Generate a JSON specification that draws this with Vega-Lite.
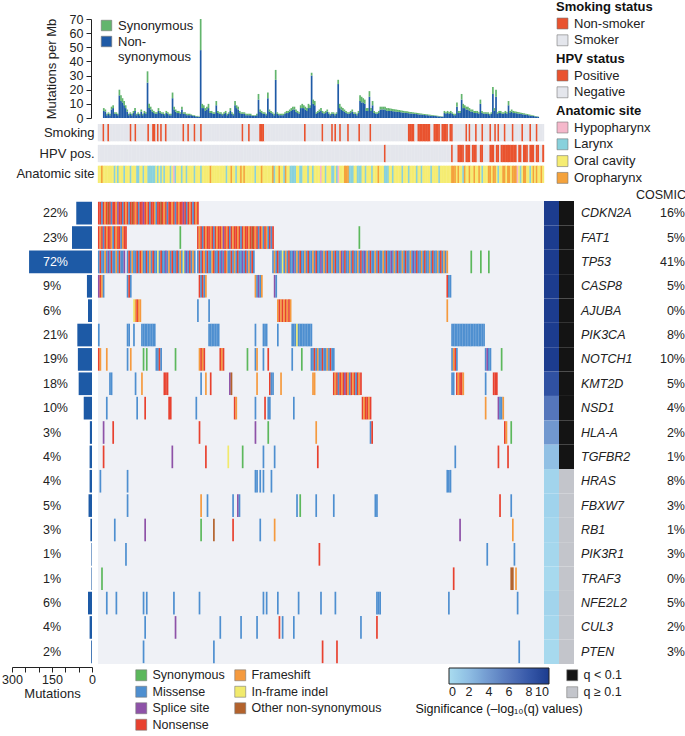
{
"$schema":"https://vega.github.io/schema/vega-lite/v6.json",
"autosize":{"type":"pad"},
"padding":{"left":1,"top":1,"right":0,"bottom":0},
"background":"white",
"config":{
 "font":"Liberation Sans",
 "view":{"stroke":null},
 "axis":{"labelFont":"Liberation Sans","titleFont":"Liberation Sans","labelColor":"#222","titleColor":"#222","domainColor":"#222","tickColor":"#222","labelFontSize":12,"titleFontSize":13,"titleFontWeight":"normal","grid":false,"labelOverlap":false},
 "legend":{"labelFont":"Liberation Sans","titleFont":"Liberation Sans","labelFontSize":13,"titleFontSize":13,"labelColor":"#222","titleColor":"#111","padding":0,"symbolType":"square","symbolSize":120,"symbolStrokeWidth":0.6,"symbolStrokeColor":"#777","rowPadding":1.8,"titlePadding":3,"labelOffset":5,"labelOverlap":false},
 "text":{"font":"Liberation Sans"}
},
"datasets":{
"samples":[
{"i":0,"n":5,"s":2,"k":"S","h":"N","a":"C"},
{"i":1,"n":4.5,"s":1.5,"k":"S","h":"N","a":"C"},
{"i":2,"n":2,"s":1,"k":"S","h":"N","a":"O"},
{"i":3,"n":3,"s":1,"k":"N","h":"N","a":"C"},
{"i":4,"n":2,"s":1,"k":"S","h":"N","a":"C"},
{"i":5,"n":6,"s":2,"k":"S","h":"N","a":"C"},
{"i":6,"n":7,"s":2,"k":"N","h":"N","a":"C"},
{"i":7,"n":3,"s":1,"k":"S","h":"N","a":"C"},
{"i":8,"n":3,"s":1,"k":"S","h":"N","a":"C"},
{"i":9,"n":2,"s":1,"k":"S","h":"N","a":"C"},
{"i":10,"n":16,"s":4,"k":"S","h":"N","a":"L"},
{"i":11,"n":12,"s":4,"k":"S","h":"N","a":"C"},
{"i":12,"n":11,"s":3,"k":"S","h":"N","a":"L"},
{"i":13,"n":9,"s":3,"k":"S","h":"N","a":"C"},
{"i":14,"n":7,"s":2,"k":"S","h":"N","a":"C"},
{"i":15,"n":4.5,"s":1.5,"k":"S","h":"N","a":"C"},
{"i":16,"n":2,"s":1,"k":"S","h":"N","a":"L"},
{"i":17,"n":3,"s":1,"k":"S","h":"N","a":"C"},
{"i":18,"n":2,"s":1,"k":"S","h":"N","a":"C"},
{"i":19,"n":3.5,"s":1.5,"k":"S","h":"N","a":"C"},
{"i":20,"n":5,"s":2,"k":"N","h":"N","a":"L"},
{"i":21,"n":2,"s":1,"k":"S","h":"N","a":"C"},
{"i":22,"n":3,"s":1,"k":"S","h":"N","a":"C"},
{"i":23,"n":2,"s":1,"k":"N","h":"N","a":"C"},
{"i":24,"n":4.5,"s":1.5,"k":"S","h":"N","a":"L"},
{"i":25,"n":2,"s":1,"k":"S","h":"N","a":"L"},
{"i":26,"n":3.5,"s":1.5,"k":"S","h":"N","a":"C"},
{"i":27,"n":3,"s":1,"k":"S","h":"N","a":"C"},
{"i":28,"n":25,"s":8,"k":"S","h":"N","a":"L"},
{"i":29,"n":7,"s":3,"k":"S","h":"N","a":"C"},
{"i":30,"n":6,"s":2,"k":"S","h":"N","a":"C"},
{"i":31,"n":4.5,"s":1.5,"k":"N","h":"N","a":"L"},
{"i":32,"n":3.5,"s":1.5,"k":"S","h":"N","a":"L"},
{"i":33,"n":3,"s":1,"k":"S","h":"N","a":"L"},
{"i":34,"n":3,"s":1,"k":"N","h":"N","a":"L"},
{"i":35,"n":5,"s":2,"k":"N","h":"N","a":"L"},
{"i":36,"n":3.5,"s":1.5,"k":"S","h":"N","a":"C"},
{"i":37,"n":3,"s":1,"k":"N","h":"N","a":"L"},
{"i":38,"n":3,"s":1,"k":"S","h":"N","a":"C"},
{"i":39,"n":2,"s":1,"k":"N","h":"N","a":"L"},
{"i":40,"n":3.5,"s":1.5,"k":"S","h":"N","a":"C"},
{"i":41,"n":3,"s":1,"k":"S","h":"N","a":"L"},
{"i":42,"n":2,"s":1,"k":"N","h":"N","a":"C"},
{"i":43,"n":2,"s":1,"k":"S","h":"N","a":"C"},
{"i":44,"n":14,"s":4,"k":"S","h":"N","a":"C"},
{"i":45,"n":6,"s":2,"k":"S","h":"N","a":"L"},
{"i":46,"n":4.5,"s":1.5,"k":"S","h":"N","a":"C"},
{"i":47,"n":3.5,"s":1.5,"k":"S","h":"N","a":"H"},
{"i":48,"n":3.5,"s":1.5,"k":"S","h":"N","a":"L"},
{"i":49,"n":3,"s":1,"k":"S","h":"N","a":"C"},
{"i":50,"n":6,"s":2,"k":"S","h":"N","a":"C"},
{"i":51,"n":3,"s":1,"k":"S","h":"N","a":"C"},
{"i":52,"n":3,"s":1,"k":"S","h":"N","a":"L"},
{"i":53,"n":2,"s":1,"k":"N","h":"N","a":"C"},
{"i":54,"n":2,"s":1,"k":"S","h":"N","a":"C"},
{"i":55,"n":2,"s":1,"k":"S","h":"N","a":"L"},
{"i":56,"n":2,"s":0.5,"k":"N","h":"N","a":"C"},
{"i":57,"n":1.5,"s":0.5,"k":"S","h":"N","a":"C"},
{"i":58,"n":1.5,"s":0.5,"k":"S","h":"N","a":"C"},
{"i":59,"n":1,"s":0.5,"k":"S","h":"N","a":"C"},
{"i":60,"n":1,"s":0.5,"k":"N","h":"N","a":"L"},
{"i":61,"n":0.7,"s":0.3,"k":"S","h":"N","a":"C"},
{"i":62,"n":48,"s":22,"k":"S","h":"N","a":"C"},
{"i":63,"n":7,"s":3,"k":"S","h":"N","a":"C"},
{"i":64,"n":7,"s":2,"k":"N","h":"N","a":"L"},
{"i":65,"n":5,"s":2,"k":"S","h":"N","a":"C"},
{"i":66,"n":6,"s":2,"k":"S","h":"N","a":"C"},
{"i":67,"n":7,"s":3,"k":"S","h":"N","a":"C"},
{"i":68,"n":3.5,"s":1.5,"k":"S","h":"N","a":"C"},
{"i":69,"n":3.5,"s":1.5,"k":"S","h":"N","a":"C"},
{"i":70,"n":3,"s":1,"k":"S","h":"N","a":"O"},
{"i":71,"n":3,"s":1,"k":"S","h":"N","a":"C"},
{"i":72,"n":9,"s":3,"k":"S","h":"N","a":"C"},
{"i":73,"n":3.5,"s":1.5,"k":"S","h":"N","a":"C"},
{"i":74,"n":3,"s":1,"k":"S","h":"N","a":"C"},
{"i":75,"n":3,"s":1,"k":"S","h":"N","a":"C"},
{"i":76,"n":2,"s":1,"k":"S","h":"N","a":"C"},
{"i":77,"n":3,"s":1,"k":"S","h":"N","a":"C"},
{"i":78,"n":3.5,"s":1.5,"k":"S","h":"N","a":"C"},
{"i":79,"n":2,"s":1,"k":"S","h":"N","a":"C"},
{"i":80,"n":3,"s":1,"k":"S","h":"N","a":"L"},
{"i":81,"n":5,"s":2,"k":"S","h":"N","a":"C"},
{"i":82,"n":3,"s":1,"k":"S","h":"N","a":"C"},
{"i":83,"n":2,"s":1,"k":"S","h":"N","a":"O"},
{"i":84,"n":9,"s":3,"k":"S","h":"N","a":"C"},
{"i":85,"n":7,"s":2,"k":"S","h":"N","a":"C"},
{"i":86,"n":6,"s":2,"k":"S","h":"N","a":"L"},
{"i":87,"n":3.5,"s":1.5,"k":"S","h":"N","a":"C"},
{"i":88,"n":3,"s":1,"k":"S","h":"N","a":"C"},
{"i":89,"n":3,"s":1,"k":"S","h":"N","a":"O"},
{"i":90,"n":3,"s":1,"k":"N","h":"N","a":"C"},
{"i":91,"n":2,"s":1,"k":"S","h":"N","a":"O"},
{"i":92,"n":2,"s":1,"k":"S","h":"N","a":"C"},
{"i":93,"n":2,"s":1,"k":"S","h":"N","a":"C"},
{"i":94,"n":2,"s":1,"k":"N","h":"N","a":"C"},
{"i":95,"n":1.5,"s":0.5,"k":"S","h":"N","a":"C"},
{"i":96,"n":1.5,"s":0.5,"k":"S","h":"N","a":"C"},
{"i":97,"n":1.5,"s":0.5,"k":"S","h":"N","a":"C"},
{"i":98,"n":2,"s":1,"k":"S","h":"N","a":"L"},
{"i":99,"n":13,"s":4,"k":"S","h":"N","a":"C"},
{"i":100,"n":4.5,"s":1.5,"k":"S","h":"N","a":"C"},
{"i":101,"n":3.5,"s":1.5,"k":"N","h":"N","a":"C"},
{"i":102,"n":3,"s":1,"k":"N","h":"N","a":"O"},
{"i":103,"n":3,"s":1,"k":"N","h":"N","a":"C"},
{"i":104,"n":2,"s":1,"k":"S","h":"N","a":"C"},
{"i":105,"n":14,"s":4,"k":"S","h":"N","a":"C"},
{"i":106,"n":4.5,"s":1.5,"k":"S","h":"N","a":"C"},
{"i":107,"n":3.5,"s":1.5,"k":"S","h":"N","a":"C"},
{"i":108,"n":3,"s":1,"k":"S","h":"N","a":"C"},
{"i":109,"n":2,"s":1,"k":"S","h":"N","a":"O"},
{"i":110,"n":27,"s":7,"k":"S","h":"N","a":"L"},
{"i":111,"n":3,"s":1,"k":"S","h":"N","a":"C"},
{"i":112,"n":2,"s":1,"k":"S","h":"N","a":"C"},
{"i":113,"n":2,"s":1,"k":"S","h":"N","a":"O"},
{"i":114,"n":2,"s":1,"k":"S","h":"N","a":"C"},
{"i":115,"n":2,"s":1,"k":"S","h":"N","a":"C"},
{"i":116,"n":3,"s":1,"k":"S","h":"N","a":"L"},
{"i":117,"n":3.5,"s":1.5,"k":"S","h":"N","a":"O"},
{"i":118,"n":3.5,"s":1.5,"k":"S","h":"N","a":"C"},
{"i":119,"n":4.5,"s":1.5,"k":"S","h":"N","a":"C"},
{"i":120,"n":5,"s":2,"k":"S","h":"N","a":"L"},
{"i":121,"n":6,"s":2,"k":"S","h":"N","a":"L"},
{"i":122,"n":6,"s":2,"k":"S","h":"N","a":"L"},
{"i":123,"n":4.5,"s":1.5,"k":"S","h":"N","a":"L"},
{"i":124,"n":3.5,"s":1.5,"k":"S","h":"N","a":"C"},
{"i":125,"n":3,"s":1,"k":"S","h":"N","a":"C"},
{"i":126,"n":7,"s":2,"k":"S","h":"N","a":"L"},
{"i":127,"n":7,"s":3,"k":"S","h":"N","a":"L"},
{"i":128,"n":7,"s":2,"k":"S","h":"N","a":"C"},
{"i":129,"n":6,"s":2,"k":"N","h":"N","a":"C"},
{"i":130,"n":5,"s":2,"k":"S","h":"N","a":"C"},
{"i":131,"n":7,"s":3,"k":"S","h":"N","a":"L"},
{"i":132,"n":7,"s":2,"k":"S","h":"N","a":"C"},
{"i":133,"n":30,"s":2,"k":"S","h":"N","a":"C"},
{"i":134,"n":10,"s":3,"k":"S","h":"N","a":"L"},
{"i":135,"n":9,"s":3,"k":"S","h":"N","a":"C"},
{"i":136,"n":3,"s":1,"k":"S","h":"N","a":"C"},
{"i":137,"n":3.5,"s":1.5,"k":"S","h":"N","a":"C"},
{"i":138,"n":4.5,"s":1.5,"k":"S","h":"N","a":"C"},
{"i":139,"n":5,"s":2,"k":"S","h":"N","a":"H"},
{"i":140,"n":3.5,"s":1.5,"k":"N","h":"N","a":"C"},
{"i":141,"n":3,"s":1,"k":"S","h":"N","a":"C"},
{"i":142,"n":3.5,"s":1.5,"k":"S","h":"N","a":"L"},
{"i":143,"n":4.5,"s":1.5,"k":"S","h":"N","a":"C"},
{"i":144,"n":3,"s":1,"k":"S","h":"N","a":"C"},
{"i":145,"n":2,"s":1,"k":"S","h":"N","a":"C"},
{"i":146,"n":3,"s":1,"k":"N","h":"N","a":"L"},
{"i":147,"n":3,"s":1,"k":"S","h":"N","a":"L"},
{"i":148,"n":2,"s":1,"k":"N","h":"N","a":"C"},
{"i":149,"n":3,"s":1,"k":"S","h":"N","a":"L"},
{"i":150,"n":24,"s":3,"k":"S","h":"N","a":"H"},
{"i":151,"n":7,"s":3,"k":"N","h":"N","a":"C"},
{"i":152,"n":6,"s":2,"k":"S","h":"N","a":"C"},
{"i":153,"n":5,"s":2,"k":"S","h":"N","a":"C"},
{"i":154,"n":4.5,"s":1.5,"k":"S","h":"N","a":"O"},
{"i":155,"n":3.5,"s":1.5,"k":"S","h":"N","a":"O"},
{"i":156,"n":3,"s":1,"k":"N","h":"N","a":"O"},
{"i":157,"n":3,"s":1,"k":"S","h":"N","a":"L"},
{"i":158,"n":3.5,"s":1.5,"k":"S","h":"N","a":"L"},
{"i":159,"n":4.5,"s":1.5,"k":"S","h":"N","a":"L"},
{"i":160,"n":3,"s":1,"k":"S","h":"N","a":"C"},
{"i":161,"n":3,"s":1,"k":"S","h":"N","a":"C"},
{"i":162,"n":2,"s":1,"k":"S","h":"N","a":"L"},
{"i":163,"n":3.5,"s":1.5,"k":"N","h":"N","a":"L"},
{"i":164,"n":12,"s":4,"k":"S","h":"N","a":"L"},
{"i":165,"n":11,"s":4,"k":"S","h":"N","a":"C"},
{"i":166,"n":11,"s":3,"k":"S","h":"N","a":"C"},
{"i":167,"n":10,"s":3,"k":"S","h":"N","a":"L"},
{"i":168,"n":5,"s":2,"k":"S","h":"N","a":"C"},
{"i":169,"n":5,"s":2,"k":"S","h":"N","a":"C"},
{"i":170,"n":15,"s":4,"k":"N","h":"N","a":"C"},
{"i":171,"n":5,"s":2,"k":"S","h":"N","a":"L"},
{"i":172,"n":9,"s":3,"k":"S","h":"N","a":"C"},
{"i":173,"n":3.5,"s":1.5,"k":"S","h":"N","a":"C"},
{"i":174,"n":3,"s":1,"k":"S","h":"N","a":"C"},
{"i":175,"n":3,"s":1,"k":"S","h":"N","a":"O"},
{"i":176,"n":3.5,"s":1.5,"k":"S","h":"N","a":"C"},
{"i":177,"n":6,"s":2,"k":"S","h":"N","a":"C"},
{"i":178,"n":6,"s":2,"k":"S","h":"N","a":"C"},
{"i":179,"n":6,"s":2,"k":"S","h":"P","a":"L"},
{"i":180,"n":6,"s":2,"k":"S","h":"N","a":"L"},
{"i":181,"n":5,"s":2,"k":"S","h":"N","a":"L"},
{"i":182,"n":5,"s":2,"k":"S","h":"N","a":"C"},
{"i":183,"n":5,"s":1.8,"k":"S","h":"N","a":"C"},
{"i":184,"n":5,"s":1.6,"k":"S","h":"N","a":"L"},
{"i":185,"n":4.8,"s":1.6,"k":"S","h":"N","a":"C"},
{"i":186,"n":4.7,"s":1.5,"k":"S","h":"N","a":"C"},
{"i":187,"n":4.5,"s":1.5,"k":"S","h":"N","a":"C"},
{"i":188,"n":4.4,"s":1.4,"k":"S","h":"N","a":"C"},
{"i":189,"n":4.2,"s":1.4,"k":"S","h":"N","a":"C"},
{"i":190,"n":4.1,"s":1.3,"k":"S","h":"N","a":"L"},
{"i":191,"n":3.9,"s":1.3,"k":"S","h":"N","a":"C"},
{"i":192,"n":3.8,"s":1.2,"k":"S","h":"N","a":"C"},
{"i":193,"n":3.6,"s":1.2,"k":"S","h":"N","a":"C"},
{"i":194,"n":3.5,"s":1.2,"k":"N","h":"N","a":"L"},
{"i":195,"n":3.4,"s":1.1,"k":"N","h":"N","a":"C"},
{"i":196,"n":3.2,"s":1.1,"k":"N","h":"N","a":"C"},
{"i":197,"n":3.2,"s":1,"k":"N","h":"N","a":"C"},
{"i":198,"n":3,"s":1,"k":"S","h":"N","a":"C"},
{"i":199,"n":2.9,"s":0.9,"k":"S","h":"N","a":"L"},
{"i":200,"n":2.8,"s":0.9,"k":"N","h":"N","a":"C"},
{"i":201,"n":2.6,"s":0.9,"k":"N","h":"N","a":"C"},
{"i":202,"n":2.5,"s":0.8,"k":"N","h":"N","a":"L"},
{"i":203,"n":2.4,"s":0.8,"k":"N","h":"N","a":"C"},
{"i":204,"n":2.3,"s":0.7,"k":"N","h":"N","a":"C"},
{"i":205,"n":2.2,"s":0.7,"k":"N","h":"N","a":"C"},
{"i":206,"n":2,"s":0.7,"k":"N","h":"N","a":"C"},
{"i":207,"n":2,"s":0.6,"k":"N","h":"N","a":"C"},
{"i":208,"n":1.8,"s":0.6,"k":"S","h":"N","a":"L"},
{"i":209,"n":1.7,"s":0.6,"k":"S","h":"N","a":"C"},
{"i":210,"n":1.6,"s":0.5,"k":"N","h":"N","a":"C"},
{"i":211,"n":1.5,"s":0.5,"k":"N","h":"N","a":"C"},
{"i":212,"n":1.4,"s":0.4,"k":"N","h":"N","a":"C"},
{"i":213,"n":1.3,"s":0.4,"k":"N","h":"N","a":"L"},
{"i":214,"n":1.1,"s":0.4,"k":"S","h":"N","a":"C"},
{"i":215,"n":1.1,"s":0.3,"k":"N","h":"N","a":"C"},
{"i":216,"n":0.9,"s":0.3,"k":"N","h":"N","a":"C"},
{"i":217,"n":0.8,"s":0.2,"k":"N","h":"N","a":"C"},
{"i":218,"n":3.5,"s":1.5,"k":"N","h":"N","a":"C"},
{"i":219,"n":3,"s":1,"k":"S","h":"N","a":"C"},
{"i":220,"n":3.5,"s":1.5,"k":"N","h":"N","a":"C"},
{"i":221,"n":3,"s":1,"k":"N","h":"P","a":"O"},
{"i":222,"n":3.5,"s":1.5,"k":"S","h":"N","a":"O"},
{"i":223,"n":3,"s":1,"k":"S","h":"N","a":"O"},
{"i":224,"n":2,"s":1,"k":"S","h":"N","a":"C"},
{"i":225,"n":2,"s":1,"k":"S","h":"P","a":"O"},
{"i":226,"n":8,"s":3,"k":"S","h":"P","a":"C"},
{"i":227,"n":3.5,"s":1.5,"k":"S","h":"P","a":"C"},
{"i":228,"n":3.5,"s":1.5,"k":"S","h":"P","a":"L"},
{"i":229,"n":13,"s":4,"k":"S","h":"N","a":"O"},
{"i":230,"n":7,"s":3,"k":"N","h":"P","a":"C"},
{"i":231,"n":7,"s":2,"k":"S","h":"P","a":"C"},
{"i":232,"n":6,"s":2,"k":"N","h":"P","a":"O"},
{"i":233,"n":6,"s":2,"k":"S","h":"N","a":"C"},
{"i":234,"n":5,"s":2,"k":"S","h":"P","a":"C"},
{"i":235,"n":4.5,"s":1.5,"k":"S","h":"P","a":"O"},
{"i":236,"n":4.5,"s":1.5,"k":"N","h":"P","a":"C"},
{"i":237,"n":3.5,"s":1.5,"k":"S","h":"N","a":"C"},
{"i":238,"n":3.5,"s":1.5,"k":"S","h":"N","a":"O"},
{"i":239,"n":3.5,"s":1.5,"k":"S","h":"P","a":"C"},
{"i":240,"n":3,"s":1,"k":"N","h":"P","a":"L"},
{"i":241,"n":10,"s":3,"k":"S","h":"N","a":"C"},
{"i":242,"n":3.5,"s":1.5,"k":"S","h":"N","a":"C"},
{"i":243,"n":3,"s":1,"k":"S","h":"N","a":"C"},
{"i":244,"n":3,"s":1,"k":"S","h":"N","a":"O"},
{"i":245,"n":3,"s":1,"k":"N","h":"P","a":"O"},
{"i":246,"n":3,"s":1,"k":"S","h":"P","a":"C"},
{"i":247,"n":2,"s":1,"k":"S","h":"P","a":"O"},
{"i":248,"n":3,"s":1,"k":"N","h":"N","a":"O"},
{"i":249,"n":17,"s":5,"k":"S","h":"P","a":"C"},
{"i":250,"n":5,"s":2,"k":"N","h":"P","a":"L"},
{"i":251,"n":15,"s":5,"k":"S","h":"N","a":"C"},
{"i":252,"n":3,"s":1,"k":"S","h":"P","a":"C"},
{"i":253,"n":3.5,"s":1.5,"k":"S","h":"P","a":"O"},
{"i":254,"n":3.5,"s":1.5,"k":"N","h":"P","a":"O"},
{"i":255,"n":3,"s":1,"k":"S","h":"P","a":"C"},
{"i":256,"n":3,"s":1,"k":"S","h":"P","a":"O"},
{"i":257,"n":3.5,"s":1.5,"k":"S","h":"P","a":"O"},
{"i":258,"n":3,"s":1,"k":"S","h":"P","a":"C"},
{"i":259,"n":9,"s":3,"k":"N","h":"P","a":"O"},
{"i":260,"n":3.5,"s":1.5,"k":"S","h":"P","a":"O"},
{"i":261,"n":4.5,"s":1.5,"k":"S","h":"P","a":"O"},
{"i":262,"n":3.5,"s":1.5,"k":"S","h":"N","a":"H"},
{"i":263,"n":3.5,"s":1.2,"k":"S","h":"P","a":"C"},
{"i":264,"n":3.4,"s":1.1,"k":"S","h":"P","a":"L"},
{"i":265,"n":3.2,"s":1,"k":"N","h":"N","a":"C"},
{"i":266,"n":3,"s":1,"k":"S","h":"P","a":"O"},
{"i":267,"n":2.9,"s":0.9,"k":"S","h":"P","a":"O"},
{"i":268,"n":2.6,"s":0.9,"k":"S","h":"P","a":"C"},
{"i":269,"n":2.5,"s":0.8,"k":"S","h":"N","a":"C"},
{"i":270,"n":2.3,"s":0.7,"k":"N","h":"P","a":"L"},
{"i":271,"n":2.1,"s":0.7,"k":"S","h":"P","a":"C"},
{"i":272,"n":1.9,"s":0.6,"k":"S","h":"P","a":"O"},
{"i":273,"n":1.7,"s":0.6,"k":"S","h":"N","a":"C"},
{"i":274,"n":1.5,"s":0.5,"k":"N","h":"P","a":"O"},
{"i":275,"n":1.4,"s":0.4,"k":"S","h":"P","a":"C"},
{"i":276,"n":1.1,"s":0.4,"k":"S","h":"N","a":"C"},
{"i":277,"n":1,"s":0.3,"k":"S","h":"N","a":"O"},
{"i":278,"n":0.8,"s":0.2,"k":"S","h":"P","a":"C"}
],
"genes":[
{"g":"CDKN2A","c":59,"p":"22%","sig":12,"qc":"q < 0.1","cos":"16%"},
{"g":"FAT1","c":75,"p":"23%","sig":12,"qc":"q < 0.1","cos":"5%"},
{"g":"TP53","c":236,"p":"72%","sig":12,"qc":"q < 0.1","cos":"41%"},
{"g":"CASP8","c":19,"p":"9%","sig":11,"qc":"q < 0.1","cos":"5%"},
{"g":"AJUBA","c":15,"p":"6%","sig":10.5,"qc":"q < 0.1","cos":"0%"},
{"g":"PIK3CA","c":55,"p":"21%","sig":12,"qc":"q < 0.1","cos":"8%"},
{"g":"NOTCH1","c":53,"p":"19%","sig":10.5,"qc":"q < 0.1","cos":"10%"},
{"g":"KMT2D","c":50,"p":"18%","sig":8.5,"qc":"q < 0.1","cos":"5%"},
{"g":"NSD1","c":31,"p":"10%","sig":6,"qc":"q < 0.1","cos":"4%"},
{"g":"HLA-A","c":8,"p":"3%","sig":4,"qc":"q < 0.1","cos":"2%"},
{"g":"TGFBR2","c":9,"p":"4%","sig":1.8,"qc":"q < 0.1","cos":"1%"},
{"g":"HRAS","c":9,"p":"4%","sig":0.5,"qc":"q ≥ 0.1","cos":"8%"},
{"g":"FBXW7","c":13,"p":"5%","sig":0.6,"qc":"q ≥ 0.1","cos":"3%"},
{"g":"RB1","c":6,"p":"3%","sig":0.4,"qc":"q ≥ 0.1","cos":"1%"},
{"g":"PIK3R1","c":2,"p":"1%","sig":0.3,"qc":"q ≥ 0.1","cos":"3%"},
{"g":"TRAF3","c":2,"p":"1%","sig":0.2,"qc":"q ≥ 0.1","cos":"0%"},
{"g":"NFE2L2","c":15,"p":"6%","sig":0.5,"qc":"q ≥ 0.1","cos":"5%"},
{"g":"CUL3","c":9,"p":"4%","sig":0.3,"qc":"q ≥ 0.1","cos":"2%"},
{"g":"PTEN","c":3,"p":"2%","sig":0.2,"qc":"q ≥ 0.1","cos":"3%"}
],
"muts":[
{"g":"CDKN2A","i":0,"t":"N"},{"g":"CDKN2A","i":1,"t":"N"},{"g":"CDKN2A","i":2,"t":"M"},{"g":"CDKN2A","i":3,"t":"N"},{"g":"CDKN2A","i":4,"t":"F"},{"g":"CDKN2A","i":5,"t":"N"},{"g":"CDKN2A","i":6,"t":"O"},{"g":"CDKN2A","i":7,"t":"N"},{"g":"CDKN2A","i":8,"t":"M"},{"g":"CDKN2A","i":9,"t":"N"},
{"g":"CDKN2A","i":10,"t":"N"},{"g":"CDKN2A","i":11,"t":"F"},{"g":"CDKN2A","i":12,"t":"P"},{"g":"CDKN2A","i":13,"t":"N"},{"g":"CDKN2A","i":14,"t":"N"},{"g":"CDKN2A","i":15,"t":"M"},{"g":"CDKN2A","i":16,"t":"N"},{"g":"CDKN2A","i":17,"t":"F"},{"g":"CDKN2A","i":18,"t":"N"},{"g":"CDKN2A","i":19,"t":"M"},
{"g":"CDKN2A","i":20,"t":"N"},{"g":"CDKN2A","i":21,"t":"O"},{"g":"CDKN2A","i":22,"t":"N"},{"g":"CDKN2A","i":23,"t":"F"},{"g":"CDKN2A","i":24,"t":"N"},{"g":"CDKN2A","i":25,"t":"M"},{"g":"CDKN2A","i":26,"t":"N"},{"g":"CDKN2A","i":27,"t":"N"},{"g":"CDKN2A","i":28,"t":"P"},{"g":"CDKN2A","i":29,"t":"N"},
{"g":"CDKN2A","i":30,"t":"F"},{"g":"CDKN2A","i":31,"t":"N"},{"g":"CDKN2A","i":32,"t":"M"},{"g":"CDKN2A","i":33,"t":"N"},{"g":"CDKN2A","i":34,"t":"N"},{"g":"CDKN2A","i":35,"t":"F"},{"g":"CDKN2A","i":36,"t":"M"},{"g":"CDKN2A","i":37,"t":"N"},{"g":"CDKN2A","i":38,"t":"N"},{"g":"CDKN2A","i":39,"t":"O"},
{"g":"CDKN2A","i":40,"t":"N"},{"g":"CDKN2A","i":41,"t":"F"},{"g":"CDKN2A","i":42,"t":"N"},{"g":"CDKN2A","i":43,"t":"M"},{"g":"CDKN2A","i":44,"t":"N"},{"g":"CDKN2A","i":45,"t":"N"},{"g":"CDKN2A","i":46,"t":"F"},{"g":"CDKN2A","i":47,"t":"N"},{"g":"CDKN2A","i":48,"t":"M"},{"g":"CDKN2A","i":49,"t":"N"},
{"g":"CDKN2A","i":50,"t":"F"},{"g":"CDKN2A","i":51,"t":"N"},{"g":"CDKN2A","i":52,"t":"N"},{"g":"CDKN2A","i":53,"t":"P"},{"g":"CDKN2A","i":54,"t":"N"},{"g":"CDKN2A","i":55,"t":"M"},{"g":"CDKN2A","i":56,"t":"N"},{"g":"CDKN2A","i":57,"t":"F"},{"g":"CDKN2A","i":58,"t":"N"},{"g":"CDKN2A","i":59,"t":"M"},
{"g":"CDKN2A","i":60,"t":"N"},{"g":"CDKN2A","i":61,"t":"F"},{"g":"CDKN2A","i":62,"t":"N"},
{"g":"FAT1","i":0,"t":"N"},{"g":"FAT1","i":1,"t":"F"},{"g":"FAT1","i":2,"t":"N"},{"g":"FAT1","i":3,"t":"M"},{"g":"FAT1","i":4,"t":"N"},{"g":"FAT1","i":5,"t":"F"},{"g":"FAT1","i":6,"t":"N"},{"g":"FAT1","i":7,"t":"N"},{"g":"FAT1","i":8,"t":"F"},{"g":"FAT1","i":9,"t":"M"},
{"g":"FAT1","i":10,"t":"N"},{"g":"FAT1","i":11,"t":"F"},{"g":"FAT1","i":12,"t":"N"},{"g":"FAT1","i":13,"t":"N"},{"g":"FAT1","i":14,"t":"M"},{"g":"FAT1","i":15,"t":"F"},{"g":"FAT1","i":16,"t":"N"},{"g":"FAT1","i":17,"t":"N"},{"g":"FAT1","i":51,"t":"S"},
{"g":"FAT1","i":62,"t":"N"},{"g":"FAT1","i":63,"t":"F"},{"g":"FAT1","i":64,"t":"N"},{"g":"FAT1","i":65,"t":"M"},{"g":"FAT1","i":66,"t":"N"},{"g":"FAT1","i":67,"t":"F"},{"g":"FAT1","i":68,"t":"N"},{"g":"FAT1","i":69,"t":"N"},{"g":"FAT1","i":70,"t":"F"},{"g":"FAT1","i":71,"t":"N"},
{"g":"FAT1","i":72,"t":"M"},{"g":"FAT1","i":73,"t":"N"},{"g":"FAT1","i":74,"t":"F"},{"g":"FAT1","i":75,"t":"N"},{"g":"FAT1","i":76,"t":"N"},{"g":"FAT1","i":77,"t":"F"},{"g":"FAT1","i":78,"t":"P"},{"g":"FAT1","i":79,"t":"N"},{"g":"FAT1","i":80,"t":"F"},{"g":"FAT1","i":81,"t":"N"},
{"g":"FAT1","i":82,"t":"M"},{"g":"FAT1","i":83,"t":"N"},{"g":"FAT1","i":84,"t":"F"},{"g":"FAT1","i":85,"t":"N"},{"g":"FAT1","i":86,"t":"N"},{"g":"FAT1","i":87,"t":"F"},{"g":"FAT1","i":88,"t":"N"},{"g":"FAT1","i":89,"t":"M"},{"g":"FAT1","i":90,"t":"N"},{"g":"FAT1","i":91,"t":"F"},
{"g":"FAT1","i":92,"t":"N"},{"g":"FAT1","i":93,"t":"N"},{"g":"FAT1","i":94,"t":"F"},{"g":"FAT1","i":95,"t":"N"},{"g":"FAT1","i":96,"t":"O"},{"g":"FAT1","i":97,"t":"N"},{"g":"FAT1","i":98,"t":"F"},{"g":"FAT1","i":99,"t":"N"},{"g":"FAT1","i":100,"t":"M"},{"g":"FAT1","i":101,"t":"N"},
{"g":"FAT1","i":102,"t":"F"},{"g":"FAT1","i":103,"t":"M"},{"g":"FAT1","i":104,"t":"N"},{"g":"FAT1","i":105,"t":"F"},{"g":"FAT1","i":106,"t":"M"},{"g":"FAT1","i":107,"t":"N"},{"g":"FAT1","i":108,"t":"M"},{"g":"FAT1","i":109,"t":"N"},{"g":"FAT1","i":163,"t":"S"},
{"g":"TP53","i":0,"t":"M"},{"g":"TP53","i":1,"t":"N"},{"g":"TP53","i":2,"t":"M"},{"g":"TP53","i":3,"t":"M"},{"g":"TP53","i":4,"t":"F"},{"g":"TP53","i":5,"t":"M"},{"g":"TP53","i":6,"t":"P"},{"g":"TP53","i":7,"t":"M"},{"g":"TP53","i":8,"t":"N"},{"g":"TP53","i":9,"t":"M"},
{"g":"TP53","i":10,"t":"M"},{"g":"TP53","i":11,"t":"F"},{"g":"TP53","i":12,"t":"M"},{"g":"TP53","i":13,"t":"N"},{"g":"TP53","i":14,"t":"M"},{"g":"TP53","i":15,"t":"M"},{"g":"TP53","i":16,"t":"P"},
{"g":"TP53","i":18,"t":"M"},{"g":"TP53","i":19,"t":"N"},{"g":"TP53","i":20,"t":"M"},{"g":"TP53","i":21,"t":"F"},{"g":"TP53","i":22,"t":"M"},{"g":"TP53","i":23,"t":"M"},{"g":"TP53","i":24,"t":"N"},{"g":"TP53","i":25,"t":"M"},{"g":"TP53","i":26,"t":"N"},{"g":"TP53","i":27,"t":"F"},
{"g":"TP53","i":28,"t":"M"},{"g":"TP53","i":29,"t":"M"},{"g":"TP53","i":30,"t":"N"},{"g":"TP53","i":31,"t":"M"},{"g":"TP53","i":32,"t":"F"},{"g":"TP53","i":33,"t":"M"},{"g":"TP53","i":34,"t":"N"},{"g":"TP53","i":35,"t":"M"},{"g":"TP53","i":36,"t":"M"},{"g":"TP53","i":37,"t":"I"},
{"g":"TP53","i":38,"t":"M"},{"g":"TP53","i":39,"t":"N"},{"g":"TP53","i":40,"t":"M"},{"g":"TP53","i":41,"t":"M"},{"g":"TP53","i":42,"t":"P"},{"g":"TP53","i":43,"t":"M"},{"g":"TP53","i":44,"t":"F"},{"g":"TP53","i":45,"t":"M"},{"g":"TP53","i":46,"t":"N"},{"g":"TP53","i":47,"t":"M"},
{"g":"TP53","i":48,"t":"M"},{"g":"TP53","i":49,"t":"N"},{"g":"TP53","i":50,"t":"M"},{"g":"TP53","i":51,"t":"F"},{"g":"TP53","i":52,"t":"M"},{"g":"TP53","i":53,"t":"I"},{"g":"TP53","i":54,"t":"M"},{"g":"TP53","i":55,"t":"P"},{"g":"TP53","i":56,"t":"M"},{"g":"TP53","i":57,"t":"N"},
{"g":"TP53","i":58,"t":"M"},{"g":"TP53","i":59,"t":"F"},{"g":"TP53","i":60,"t":"M"},
{"g":"TP53","i":62,"t":"M"},{"g":"TP53","i":63,"t":"N"},{"g":"TP53","i":64,"t":"M"},{"g":"TP53","i":65,"t":"N"},{"g":"TP53","i":66,"t":"F"},{"g":"TP53","i":67,"t":"M"},{"g":"TP53","i":68,"t":"N"},{"g":"TP53","i":69,"t":"M"},{"g":"TP53","i":70,"t":"M"},{"g":"TP53","i":71,"t":"F"},
{"g":"TP53","i":72,"t":"N"},{"g":"TP53","i":73,"t":"M"},{"g":"TP53","i":74,"t":"M"},{"g":"TP53","i":75,"t":"N"},{"g":"TP53","i":76,"t":"M"},{"g":"TP53","i":77,"t":"P"},{"g":"TP53","i":78,"t":"M"},{"g":"TP53","i":79,"t":"N"},{"g":"TP53","i":80,"t":"F"},{"g":"TP53","i":81,"t":"M"},
{"g":"TP53","i":82,"t":"M"},{"g":"TP53","i":83,"t":"N"},{"g":"TP53","i":84,"t":"M"},{"g":"TP53","i":85,"t":"F"},{"g":"TP53","i":86,"t":"M"},{"g":"TP53","i":87,"t":"N"},{"g":"TP53","i":88,"t":"M"},{"g":"TP53","i":89,"t":"M"},{"g":"TP53","i":90,"t":"P"},{"g":"TP53","i":91,"t":"M"},
{"g":"TP53","i":92,"t":"N"},{"g":"TP53","i":93,"t":"M"},{"g":"TP53","i":94,"t":"F"},{"g":"TP53","i":95,"t":"M"},{"g":"TP53","i":96,"t":"N"},{"g":"TP53","i":97,"t":"M"},
{"g":"TP53","i":109,"t":"M"},{"g":"TP53","i":110,"t":"F"},{"g":"TP53","i":111,"t":"M"},{"g":"TP53","i":112,"t":"N"},{"g":"TP53","i":113,"t":"M"},{"g":"TP53","i":114,"t":"M"},{"g":"TP53","i":115,"t":"I"},{"g":"TP53","i":116,"t":"M"},{"g":"TP53","i":117,"t":"F"},{"g":"TP53","i":118,"t":"M"},
{"g":"TP53","i":119,"t":"N"},{"g":"TP53","i":120,"t":"M"},{"g":"TP53","i":121,"t":"M"},{"g":"TP53","i":122,"t":"P"},{"g":"TP53","i":123,"t":"M"},{"g":"TP53","i":124,"t":"F"},{"g":"TP53","i":125,"t":"M"},{"g":"TP53","i":126,"t":"N"},{"g":"TP53","i":127,"t":"M"},{"g":"TP53","i":128,"t":"M"},
{"g":"TP53","i":129,"t":"F"},{"g":"TP53","i":130,"t":"M"},{"g":"TP53","i":131,"t":"N"},{"g":"TP53","i":132,"t":"M"},{"g":"TP53","i":133,"t":"M"},{"g":"TP53","i":134,"t":"F"},{"g":"TP53","i":135,"t":"M"},{"g":"TP53","i":136,"t":"N"},{"g":"TP53","i":137,"t":"M"},{"g":"TP53","i":138,"t":"M"},
{"g":"TP53","i":139,"t":"P"},{"g":"TP53","i":140,"t":"M"},{"g":"TP53","i":141,"t":"F"},{"g":"TP53","i":142,"t":"M"},{"g":"TP53","i":143,"t":"N"},{"g":"TP53","i":144,"t":"M"},{"g":"TP53","i":145,"t":"M"},{"g":"TP53","i":146,"t":"F"},{"g":"TP53","i":147,"t":"M"},{"g":"TP53","i":148,"t":"N"},
{"g":"TP53","i":149,"t":"M"},{"g":"TP53","i":150,"t":"M"},{"g":"TP53","i":151,"t":"F"},{"g":"TP53","i":152,"t":"P"},{"g":"TP53","i":153,"t":"M"},{"g":"TP53","i":154,"t":"N"},{"g":"TP53","i":155,"t":"M"},{"g":"TP53","i":156,"t":"M"},{"g":"TP53","i":157,"t":"F"},{"g":"TP53","i":158,"t":"M"},
{"g":"TP53","i":159,"t":"N"},{"g":"TP53","i":160,"t":"M"},{"g":"TP53","i":161,"t":"M"},{"g":"TP53","i":162,"t":"F"},{"g":"TP53","i":163,"t":"M"},{"g":"TP53","i":164,"t":"N"},{"g":"TP53","i":165,"t":"M"},{"g":"TP53","i":166,"t":"P"},{"g":"TP53","i":167,"t":"M"},{"g":"TP53","i":168,"t":"F"},
{"g":"TP53","i":169,"t":"M"},{"g":"TP53","i":170,"t":"N"},{"g":"TP53","i":171,"t":"M"},{"g":"TP53","i":172,"t":"M"},{"g":"TP53","i":173,"t":"F"},{"g":"TP53","i":174,"t":"M"},{"g":"TP53","i":175,"t":"N"},{"g":"TP53","i":176,"t":"M"},{"g":"TP53","i":177,"t":"M"},{"g":"TP53","i":178,"t":"F"},
{"g":"TP53","i":179,"t":"M"},{"g":"TP53","i":180,"t":"N"},{"g":"TP53","i":181,"t":"M"},{"g":"TP53","i":182,"t":"M"},{"g":"TP53","i":183,"t":"P"},{"g":"TP53","i":184,"t":"M"},{"g":"TP53","i":185,"t":"F"},{"g":"TP53","i":186,"t":"M"},{"g":"TP53","i":187,"t":"N"},{"g":"TP53","i":188,"t":"M"},
{"g":"TP53","i":189,"t":"M"},{"g":"TP53","i":190,"t":"F"},{"g":"TP53","i":191,"t":"M"},{"g":"TP53","i":192,"t":"N"},{"g":"TP53","i":193,"t":"M"},{"g":"TP53","i":194,"t":"M"},{"g":"TP53","i":195,"t":"F"},{"g":"TP53","i":196,"t":"M"},{"g":"TP53","i":197,"t":"P"},{"g":"TP53","i":198,"t":"M"},
{"g":"TP53","i":199,"t":"N"},{"g":"TP53","i":200,"t":"M"},{"g":"TP53","i":201,"t":"M"},{"g":"TP53","i":202,"t":"F"},{"g":"TP53","i":203,"t":"M"},{"g":"TP53","i":204,"t":"N"},{"g":"TP53","i":205,"t":"M"},{"g":"TP53","i":206,"t":"M"},{"g":"TP53","i":207,"t":"F"},{"g":"TP53","i":208,"t":"M"},
{"g":"TP53","i":209,"t":"N"},{"g":"TP53","i":210,"t":"M"},{"g":"TP53","i":211,"t":"M"},{"g":"TP53","i":212,"t":"F"},{"g":"TP53","i":213,"t":"M"},{"g":"TP53","i":214,"t":"N"},{"g":"TP53","i":215,"t":"M"},{"g":"TP53","i":216,"t":"F"},{"g":"TP53","i":217,"t":"M"},{"g":"TP53","i":218,"t":"F"},
{"g":"TP53","i":233,"t":"S"},{"g":"TP53","i":239,"t":"S"},{"g":"TP53","i":244,"t":"S"},
{"g":"CASP8","i":0,"t":"P"},{"g":"CASP8","i":1,"t":"N"},{"g":"CASP8","i":2,"t":"F"},{"g":"CASP8","i":3,"t":"M"},{"g":"CASP8","i":18,"t":"M"},{"g":"CASP8","i":19,"t":"N"},{"g":"CASP8","i":20,"t":"M"},{"g":"CASP8","i":63,"t":"N"},{"g":"CASP8","i":64,"t":"M"},{"g":"CASP8","i":65,"t":"N"},{"g":"CASP8","i":66,"t":"M"},{"g":"CASP8","i":67,"t":"F"},
{"g":"CASP8","i":98,"t":"F"},{"g":"CASP8","i":99,"t":"M"},{"g":"CASP8","i":100,"t":"P"},{"g":"CASP8","i":101,"t":"M"},{"g":"CASP8","i":102,"t":"F"},{"g":"CASP8","i":110,"t":"P"},{"g":"CASP8","i":111,"t":"M"},{"g":"CASP8","i":218,"t":"N"},{"g":"CASP8","i":219,"t":"M"},{"g":"CASP8","i":220,"t":"M"},
{"g":"AJUBA","i":22,"t":"I"},{"g":"AJUBA","i":23,"t":"F"},{"g":"AJUBA","i":24,"t":"N"},{"g":"AJUBA","i":25,"t":"F"},{"g":"AJUBA","i":26,"t":"F"},{"g":"AJUBA","i":62,"t":"M"},{"g":"AJUBA","i":69,"t":"M"},{"g":"AJUBA","i":112,"t":"F"},{"g":"AJUBA","i":113,"t":"N"},{"g":"AJUBA","i":114,"t":"F"},{"g":"AJUBA","i":115,"t":"N"},{"g":"AJUBA","i":116,"t":"F"},{"g":"AJUBA","i":117,"t":"N"},{"g":"AJUBA","i":118,"t":"F"},{"g":"AJUBA","i":119,"t":"N"},{"g":"AJUBA","i":120,"t":"F"},{"g":"AJUBA","i":218,"t":"F"},
{"g":"PIK3CA","i":0,"t":"M"},{"g":"PIK3CA","i":18,"t":"M"},{"g":"PIK3CA","i":19,"t":"M"},{"g":"PIK3CA","i":22,"t":"M"},{"g":"PIK3CA","i":27,"t":"M"},{"g":"PIK3CA","i":28,"t":"M"},{"g":"PIK3CA","i":29,"t":"M"},{"g":"PIK3CA","i":30,"t":"M"},{"g":"PIK3CA","i":31,"t":"M"},{"g":"PIK3CA","i":32,"t":"M"},{"g":"PIK3CA","i":33,"t":"M"},{"g":"PIK3CA","i":34,"t":"M"},{"g":"PIK3CA","i":35,"t":"M"},
{"g":"PIK3CA","i":69,"t":"M"},{"g":"PIK3CA","i":70,"t":"M"},{"g":"PIK3CA","i":71,"t":"M"},{"g":"PIK3CA","i":72,"t":"M"},{"g":"PIK3CA","i":73,"t":"M"},{"g":"PIK3CA","i":74,"t":"M"},{"g":"PIK3CA","i":75,"t":"M"},{"g":"PIK3CA","i":98,"t":"M"},{"g":"PIK3CA","i":103,"t":"M"},{"g":"PIK3CA","i":104,"t":"M"},{"g":"PIK3CA","i":105,"t":"M"},{"g":"PIK3CA","i":112,"t":"M"},
{"g":"PIK3CA","i":121,"t":"M"},{"g":"PIK3CA","i":122,"t":"M"},{"g":"PIK3CA","i":123,"t":"M"},{"g":"PIK3CA","i":124,"t":"I"},{"g":"PIK3CA","i":125,"t":"M"},{"g":"PIK3CA","i":126,"t":"M"},{"g":"PIK3CA","i":127,"t":"M"},{"g":"PIK3CA","i":128,"t":"M"},{"g":"PIK3CA","i":129,"t":"M"},{"g":"PIK3CA","i":130,"t":"M"},{"g":"PIK3CA","i":131,"t":"M"},{"g":"PIK3CA","i":132,"t":"M"},{"g":"PIK3CA","i":133,"t":"M"},
{"g":"PIK3CA","i":221,"t":"M"},{"g":"PIK3CA","i":222,"t":"M"},{"g":"PIK3CA","i":223,"t":"M"},{"g":"PIK3CA","i":224,"t":"M"},{"g":"PIK3CA","i":225,"t":"M"},{"g":"PIK3CA","i":226,"t":"M"},{"g":"PIK3CA","i":227,"t":"M"},{"g":"PIK3CA","i":228,"t":"M"},{"g":"PIK3CA","i":229,"t":"M"},{"g":"PIK3CA","i":230,"t":"M"},{"g":"PIK3CA","i":231,"t":"M"},
{"g":"PIK3CA","i":232,"t":"M"},{"g":"PIK3CA","i":233,"t":"M"},{"g":"PIK3CA","i":234,"t":"M"},{"g":"PIK3CA","i":235,"t":"M"},{"g":"PIK3CA","i":236,"t":"M"},{"g":"PIK3CA","i":237,"t":"M"},{"g":"PIK3CA","i":238,"t":"M"},{"g":"PIK3CA","i":239,"t":"M"},{"g":"PIK3CA","i":240,"t":"M"},{"g":"PIK3CA","i":241,"t":"M"},
{"g":"NOTCH1","i":0,"t":"N"},{"g":"NOTCH1","i":1,"t":"F"},{"g":"NOTCH1","i":5,"t":"F"},{"g":"NOTCH1","i":18,"t":"M"},{"g":"NOTCH1","i":20,"t":"F"},{"g":"NOTCH1","i":28,"t":"S"},{"g":"NOTCH1","i":30,"t":"S"},{"g":"NOTCH1","i":36,"t":"M"},{"g":"NOTCH1","i":37,"t":"M"},{"g":"NOTCH1","i":38,"t":"N"},{"g":"NOTCH1","i":39,"t":"M"},{"g":"NOTCH1","i":48,"t":"S"},
{"g":"NOTCH1","i":63,"t":"F"},{"g":"NOTCH1","i":64,"t":"N"},{"g":"NOTCH1","i":65,"t":"F"},{"g":"NOTCH1","i":66,"t":"N"},{"g":"NOTCH1","i":76,"t":"N"},{"g":"NOTCH1","i":77,"t":"F"},{"g":"NOTCH1","i":78,"t":"N"},{"g":"NOTCH1","i":93,"t":"S"},{"g":"NOTCH1","i":98,"t":"M"},{"g":"NOTCH1","i":99,"t":"F"},{"g":"NOTCH1","i":103,"t":"M"},{"g":"NOTCH1","i":106,"t":"N"},
{"g":"NOTCH1","i":121,"t":"M"},{"g":"NOTCH1","i":127,"t":"S"},{"g":"NOTCH1","i":133,"t":"M"},{"g":"NOTCH1","i":134,"t":"M"},{"g":"NOTCH1","i":135,"t":"N"},{"g":"NOTCH1","i":136,"t":"M"},{"g":"NOTCH1","i":137,"t":"F"},{"g":"NOTCH1","i":138,"t":"M"},{"g":"NOTCH1","i":139,"t":"M"},{"g":"NOTCH1","i":140,"t":"N"},
{"g":"NOTCH1","i":141,"t":"M"},{"g":"NOTCH1","i":142,"t":"M"},{"g":"NOTCH1","i":143,"t":"F"},{"g":"NOTCH1","i":144,"t":"M"},{"g":"NOTCH1","i":145,"t":"N"},{"g":"NOTCH1","i":146,"t":"M"},{"g":"NOTCH1","i":147,"t":"M"},{"g":"NOTCH1","i":221,"t":"M"},{"g":"NOTCH1","i":222,"t":"F"},{"g":"NOTCH1","i":223,"t":"N"},{"g":"NOTCH1","i":224,"t":"M"},
{"g":"NOTCH1","i":242,"t":"M"},{"g":"NOTCH1","i":243,"t":"P"},{"g":"NOTCH1","i":244,"t":"M"},{"g":"NOTCH1","i":245,"t":"M"},{"g":"NOTCH1","i":252,"t":"S"},
{"g":"KMT2D","i":7,"t":"M"},{"g":"KMT2D","i":8,"t":"M"},{"g":"KMT2D","i":23,"t":"M"},{"g":"KMT2D","i":27,"t":"F"},{"g":"KMT2D","i":41,"t":"N"},{"g":"KMT2D","i":42,"t":"N"},{"g":"KMT2D","i":43,"t":"N"},{"g":"KMT2D","i":64,"t":"M"},{"g":"KMT2D","i":67,"t":"F"},{"g":"KMT2D","i":70,"t":"N"},{"g":"KMT2D","i":82,"t":"P"},{"g":"KMT2D","i":83,"t":"O"},
{"g":"KMT2D","i":99,"t":"F"},{"g":"KMT2D","i":107,"t":"N"},{"g":"KMT2D","i":108,"t":"M"},{"g":"KMT2D","i":109,"t":"M"},{"g":"KMT2D","i":114,"t":"F"},{"g":"KMT2D","i":134,"t":"F"},{"g":"KMT2D","i":135,"t":"F"},
{"g":"KMT2D","i":147,"t":"N"},{"g":"KMT2D","i":148,"t":"F"},{"g":"KMT2D","i":149,"t":"N"},{"g":"KMT2D","i":150,"t":"M"},{"g":"KMT2D","i":151,"t":"N"},{"g":"KMT2D","i":152,"t":"F"},{"g":"KMT2D","i":153,"t":"N"},{"g":"KMT2D","i":154,"t":"P"},{"g":"KMT2D","i":155,"t":"N"},{"g":"KMT2D","i":156,"t":"F"},
{"g":"KMT2D","i":157,"t":"M"},{"g":"KMT2D","i":158,"t":"N"},{"g":"KMT2D","i":159,"t":"F"},{"g":"KMT2D","i":160,"t":"N"},{"g":"KMT2D","i":161,"t":"M"},{"g":"KMT2D","i":162,"t":"N"},{"g":"KMT2D","i":163,"t":"F"},{"g":"KMT2D","i":164,"t":"N"},
{"g":"KMT2D","i":221,"t":"M"},{"g":"KMT2D","i":222,"t":"M"},{"g":"KMT2D","i":224,"t":"N"},{"g":"KMT2D","i":225,"t":"F"},{"g":"KMT2D","i":226,"t":"N"},{"g":"KMT2D","i":227,"t":"N"},{"g":"KMT2D","i":228,"t":"F"},{"g":"KMT2D","i":242,"t":"M"},{"g":"KMT2D","i":247,"t":"N"},{"g":"KMT2D","i":248,"t":"N"},{"g":"KMT2D","i":249,"t":"N"},
{"g":"NSD1","i":5,"t":"M"},{"g":"NSD1","i":24,"t":"M"},{"g":"NSD1","i":29,"t":"N"},{"g":"NSD1","i":44,"t":"N"},{"g":"NSD1","i":45,"t":"N"},{"g":"NSD1","i":61,"t":"M"},{"g":"NSD1","i":85,"t":"N"},{"g":"NSD1","i":86,"t":"F"},{"g":"NSD1","i":98,"t":"M"},{"g":"NSD1","i":104,"t":"N"},{"g":"NSD1","i":106,"t":"M"},{"g":"NSD1","i":107,"t":"M"},{"g":"NSD1","i":122,"t":"M"},
{"g":"NSD1","i":165,"t":"N"},{"g":"NSD1","i":166,"t":"F"},{"g":"NSD1","i":167,"t":"N"},{"g":"NSD1","i":168,"t":"N"},{"g":"NSD1","i":169,"t":"F"},{"g":"NSD1","i":170,"t":"N"},{"g":"NSD1","i":242,"t":"F"},{"g":"NSD1","i":250,"t":"P"},{"g":"NSD1","i":251,"t":"M"},{"g":"NSD1","i":252,"t":"M"},{"g":"NSD1","i":253,"t":"F"},
{"g":"HLA-A","i":3,"t":"P"},{"g":"HLA-A","i":9,"t":"N"},{"g":"HLA-A","i":63,"t":"N"},{"g":"HLA-A","i":98,"t":"P"},{"g":"HLA-A","i":106,"t":"S"},{"g":"HLA-A","i":136,"t":"F"},{"g":"HLA-A","i":170,"t":"M"},{"g":"HLA-A","i":171,"t":"N"},{"g":"HLA-A","i":254,"t":"N"},{"g":"HLA-A","i":255,"t":"F"},{"g":"HLA-A","i":258,"t":"S"},
{"g":"TGFBR2","i":3,"t":"N"},{"g":"TGFBR2","i":46,"t":"P"},{"g":"TGFBR2","i":67,"t":"N"},{"g":"TGFBR2","i":81,"t":"I"},{"g":"TGFBR2","i":90,"t":"S"},{"g":"TGFBR2","i":103,"t":"M"},{"g":"TGFBR2","i":110,"t":"M"},{"g":"TGFBR2","i":137,"t":"N"},{"g":"TGFBR2","i":223,"t":"M"},{"g":"TGFBR2","i":250,"t":"N"},{"g":"TGFBR2","i":256,"t":"N"},
{"g":"HRAS","i":1,"t":"M"},{"g":"HRAS","i":18,"t":"M"},{"g":"HRAS","i":98,"t":"M"},{"g":"HRAS","i":99,"t":"M"},{"g":"HRAS","i":101,"t":"M"},{"g":"HRAS","i":103,"t":"M"},{"g":"HRAS","i":108,"t":"M"},{"g":"HRAS","i":218,"t":"M"},{"g":"HRAS","i":219,"t":"M"},{"g":"HRAS","i":220,"t":"M"},
{"g":"FBXW7","i":18,"t":"M"},{"g":"FBXW7","i":64,"t":"F"},{"g":"FBXW7","i":68,"t":"M"},{"g":"FBXW7","i":84,"t":"M"},{"g":"FBXW7","i":87,"t":"P"},{"g":"FBXW7","i":88,"t":"M"},{"g":"FBXW7","i":124,"t":"M"},{"g":"FBXW7","i":126,"t":"S"},{"g":"FBXW7","i":136,"t":"M"},{"g":"FBXW7","i":147,"t":"M"},{"g":"FBXW7","i":173,"t":"M"},{"g":"FBXW7","i":174,"t":"M"},{"g":"FBXW7","i":251,"t":"N"},{"g":"FBXW7","i":258,"t":"M"},
{"g":"RB1","i":10,"t":"M"},{"g":"RB1","i":29,"t":"P"},{"g":"RB1","i":64,"t":"S"},{"g":"RB1","i":72,"t":"O"},{"g":"RB1","i":84,"t":"N"},{"g":"RB1","i":101,"t":"M"},{"g":"RB1","i":110,"t":"F"},{"g":"RB1","i":226,"t":"P"},{"g":"RB1","i":259,"t":"F"},
{"g":"PIK3R1","i":17,"t":"M"},{"g":"PIK3R1","i":138,"t":"N"},{"g":"PIK3R1","i":243,"t":"M"},{"g":"PIK3R1","i":260,"t":"M"},
{"g":"TRAF3","i":2,"t":"S"},{"g":"TRAF3","i":222,"t":"N"},{"g":"TRAF3","i":258,"t":"O"},{"g":"TRAF3","i":259,"t":"O"},{"g":"TRAF3","i":261,"t":"F"},
{"g":"NFE2L2","i":5,"t":"M"},{"g":"NFE2L2","i":11,"t":"M"},{"g":"NFE2L2","i":28,"t":"M"},{"g":"NFE2L2","i":30,"t":"M"},{"g":"NFE2L2","i":47,"t":"M"},{"g":"NFE2L2","i":63,"t":"M"},{"g":"NFE2L2","i":103,"t":"M"},{"g":"NFE2L2","i":105,"t":"M"},{"g":"NFE2L2","i":112,"t":"M"},{"g":"NFE2L2","i":125,"t":"M"},{"g":"NFE2L2","i":139,"t":"M"},{"g":"NFE2L2","i":148,"t":"M"},{"g":"NFE2L2","i":174,"t":"M"},{"g":"NFE2L2","i":175,"t":"M"},{"g":"NFE2L2","i":176,"t":"M"},{"g":"NFE2L2","i":219,"t":"M"},{"g":"NFE2L2","i":262,"t":"M"},
{"g":"CUL3","i":29,"t":"M"},{"g":"CUL3","i":48,"t":"P"},{"g":"CUL3","i":76,"t":"M"},{"g":"CUL3","i":89,"t":"M"},{"g":"CUL3","i":99,"t":"M"},{"g":"CUL3","i":113,"t":"N"},{"g":"CUL3","i":115,"t":"M"},{"g":"CUL3","i":122,"t":"M"},{"g":"CUL3","i":164,"t":"M"},{"g":"CUL3","i":174,"t":"N"},
{"g":"PTEN","i":28,"t":"M"},{"g":"PTEN","i":72,"t":"M"},{"g":"PTEN","i":140,"t":"N"},{"g":"PTEN","i":149,"t":"N"},{"g":"PTEN","i":263,"t":"M"}
]
},
"columns":4,
"spacing":{"row":6,"column":0},
"bounds":"flush",
"align":"each",
"resolve":{"scale":{"color":"independent"}},
"concat":[
 {"width":86,"height":99,"data":{"values":[]},"mark":"text"},
 {"width":446,"height":99,
  "data":{"name":"samples"},
  "transform":[{"fold":["n","s"],"as":["part","val"]}],
  "mark":{"type":"bar","width":1.7,"orient":"vertical"},
  "encoding":{
   "x":{"field":"i","type":"quantitative","scale":{"domain":[-0.5,278.5],"nice":false,"zero":false},"axis":null},
   "y":{"field":"val","type":"quantitative","stack":"zero","scale":{"domain":[0,70],"nice":false},
        "axis":{"title":"Mutations per Mb","values":[0,10,20,30,40,50,60,70],"offset":7,"tickSize":5,"labelPadding":3,"titlePadding":11,"labelFontSize":12.5}},
   "color":{"field":"part","type":"nominal","scale":{"domain":["s","n"],"range":["#63b56d","#1f5aa6"]},
            "legend":{"title":null,"orient":"none","legendX":2,"legendY":0,"symbolSize":110,"rowPadding":2,"labelExpr":"datum.label == 's' ? 'Synonymous' : ['Non-', 'synonymous']"}},
   "order":{"field":"part","type":"nominal"}
  }
 },
 {"width":30,"height":10,"data":{"values":[]},"mark":"text"},
 {"width":112,"height":10,"data":{"values":[]},"mark":"text"},
 {"width":86,"height":71,"data":{"values":[]},"mark":"text"},
 {"width":446,"height":71,
  "data":{"name":"samples"},
  "layer":[
   {"mark":{"type":"rect","width":2},
    "encoding":{
     "x":{"field":"i","type":"quantitative","scale":{"domain":[-0.5,278.5],"nice":false,"zero":false},"axis":null},
     "y":{"datum":"Smoking","type":"nominal","scale":{"domain":["Smoking","HPV pos.","Anatomic site"],"range":[0,59],"paddingInner":0.17,"paddingOuter":0},
          "axis":{"title":null,"ticks":false,"domain":false,"labelPadding":4,"labelFontSize":13}},
     "color":{"field":"k","type":"nominal","scale":{"domain":["N","S"],"range":["#e9532f","#e4e6ec"]},
              "legend":{"title":"Smoking status","orient":"none","legendX":458,"legendY":-123,"labelExpr":"datum.label == 'N' ? 'Non-smoker' : 'Smoker'"}}
    }},
   {"mark":{"type":"rect","width":2},
    "encoding":{
     "x":{"field":"i","type":"quantitative"},
     "y":{"datum":"HPV pos.","type":"nominal"},
     "color":{"field":"h","type":"nominal","scale":{"domain":["P","N"],"range":["#e9532f","#e4e6ec"]},
              "legend":{"title":"HPV status","orient":"none","legendX":458,"legendY":-71,"labelExpr":"datum.label == 'P' ? 'Positive' : 'Negative'"}}
    }},
   {"mark":{"type":"rect","width":2},
    "encoding":{
     "x":{"field":"i","type":"quantitative"},
     "y":{"datum":"Anatomic site","type":"nominal"},
     "color":{"field":"a","type":"nominal","scale":{"domain":["H","L","C","O"],"range":["#f5b8cb","#88d1dc","#f5ec72","#f4a23c"]},
              "legend":{"title":"Anatomic site","orient":"none","legendX":458,"legendY":-19,"labelExpr":"datum.label == 'H' ? 'Hypopharynx' : datum.label == 'L' ? 'Larynx' : datum.label == 'C' ? 'Oral cavity' : 'Oropharynx'"}}
    }}
  ],
  "resolve":{"scale":{"color":"independent"}}
 },
 {"width":30,"height":10,"data":{"values":[]},"mark":"text"},
 {"width":112,"height":10,"data":{"values":[]},"mark":"text"},
 {"width":86,"height":463,
  "data":{"name":"genes"},
  "encoding":{"y":{"field":"g","type":"nominal","scale":{"domain":["CDKN2A","FAT1","TP53","CASP8","AJUBA","PIK3CA","NOTCH1","KMT2D","NSD1","HLA-A","TGFBR2","HRAS","FBXW7","RB1","PIK3R1","TRAF3","NFE2L2","CUL3","PTEN"],"paddingInner":0.07,"paddingOuter":0.035},"axis":null}},
  "layer":[
   {"mark":{"type":"bar","color":"#1d5aa6"},
    "encoding":{"x":{"field":"c","type":"quantitative","scale":{"domain":[0,300],"reverse":true,"range":[0,80],"nice":false},
      "axis":{"title":"Mutations","tickCount":6,"labelExpr":"datum.value == 0 || datum.value == 150 || datum.value == 300 ? datum.label : ''","offset":3,"tickSize":5,"labelPadding":1,"titlePadding":2,"labelFontSize":12.5,"labelFlush":false}}}},
   {"mark":{"type":"text","align":"left","baseline":"middle","fontSize":12.5},
    "encoding":{"x":{"datum":184,"type":"quantitative"},"text":{"field":"p"},
      "color":{"condition":{"test":"datum.c > 150","value":"white"},"value":"#222"}}}
  ]
 },
 {"width":446,"height":463,
  "view":{"fill":"#eff1f6","stroke":null},
  "data":{"name":"muts"},
  "mark":{"type":"rect","width":1.7},
  "encoding":{
   "x":{"field":"i","type":"quantitative","scale":{"domain":[-0.5,278.5],"nice":false,"zero":false},"axis":null},
   "y":{"field":"g","type":"nominal","scale":{"domain":["CDKN2A","FAT1","TP53","CASP8","AJUBA","PIK3CA","NOTCH1","KMT2D","NSD1","HLA-A","TGFBR2","HRAS","FBXW7","RB1","PIK3R1","TRAF3","NFE2L2","CUL3","PTEN"],"paddingInner":0.07,"paddingOuter":0.035},"axis":null},
   "color":{"field":"t","type":"nominal","scale":{"domain":["S","M","P","N","F","I","O"],"range":["#5cb85c","#4e8fd0","#8e52a8","#e8412f","#f59a3e","#f1ea6c","#b3622c"]},
     "legend":{"title":null,"orient":"none","legendX":37,"legendY":468,"columns":2,"columnPadding":8,"rowPadding":2.5,"labelFontSize":12.5,
       "labelExpr":"datum.label == 'S' ? 'Synonymous' : datum.label == 'F' ? 'Frameshift' : datum.label == 'M' ? 'Missense' : datum.label == 'I' ? 'In-frame indel' : datum.label == 'P' ? 'Splice site' : datum.label == 'O' ? 'Other non-synonymous' : 'Nonsense'"}}
  }
 },
 {"width":30,"height":463,
  "data":{"name":"genes"},
  "layer":[
   {"mark":{"type":"rect"},
    "encoding":{
     "x":{"datum":"sig","type":"nominal","scale":{"domain":["sig","q"],"paddingInner":0,"paddingOuter":0},"axis":null},
     "y":{"field":"g","type":"nominal","scale":{"domain":["CDKN2A","FAT1","TP53","CASP8","AJUBA","PIK3CA","NOTCH1","KMT2D","NSD1","HLA-A","TGFBR2","HRAS","FBXW7","RB1","PIK3R1","TRAF3","NFE2L2","CUL3","PTEN"],"paddingInner":0,"paddingOuter":0},"axis":null},
     "color":{"field":"sig","type":"quantitative","scale":{"domain":[0,2,4,6,8,10],"range":["#aadcef","#8fbde3","#7198cf","#5576bb","#3658a8","#1c3c8e"],"clamp":true},
       "legend":{"title":"Significance (–log₁₀(q) values)","orient":"none","legendX":-129,"legendY":467,"direction":"horizontal","gradientLength":100,"gradientThickness":16,
         "titleOrient":"bottom","titleAnchor":"middle","titleFontWeight":"normal","titleFontSize":12.5,"labelFontSize":12.5,"values":[0,2,4,6,8,10],"gradientStrokeColor":"#222","gradientStrokeWidth":1,"titlePadding":4,"labelOverlap":false}}
    }},
   {"mark":{"type":"rect"},
    "encoding":{
     "x":{"datum":"q","type":"nominal"},
     "y":{"field":"g","type":"nominal"},
     "color":{"field":"qc","type":"nominal","scale":{"domain":["q < 0.1","q ≥ 0.1"],"range":["#141414","#c3c5cb"]},
       "legend":{"title":null,"orient":"none","legendX":22,"legendY":468,"labelFontSize":12.5,"rowPadding":3}}
    }}
  ],
  "resolve":{"scale":{"color":"independent"}}
 },
 {"width":112,"height":463,
  "data":{"name":"genes"},
  "title":{"text":"COSMIC","anchor":"end","fontSize":12.5,"fontWeight":"normal","offset":0,"color":"#222","font":"Liberation Sans"},
  "encoding":{"y":{"field":"g","type":"nominal","scale":{"domain":["CDKN2A","FAT1","TP53","CASP8","AJUBA","PIK3CA","NOTCH1","KMT2D","NSD1","HLA-A","TGFBR2","HRAS","FBXW7","RB1","PIK3R1","TRAF3","NFE2L2","CUL3","PTEN"],"paddingInner":0,"paddingOuter":0},"axis":null}},
  "layer":[
   {"mark":{"type":"text","align":"left","baseline":"middle","fontStyle":"italic","fontSize":12.5,"dx":7,"color":"#222"},
    "encoding":{"x":{"datum":0,"type":"quantitative","scale":{"domain":[0,1],"nice":false},"axis":null},"text":{"field":"g"}}},
   {"mark":{"type":"text","align":"right","baseline":"middle","fontSize":12.5,"dx":-1,"color":"#222"},
    "encoding":{"x":{"datum":1,"type":"quantitative"},"text":{"field":"cos"}}}
  ]
 }
]
}
